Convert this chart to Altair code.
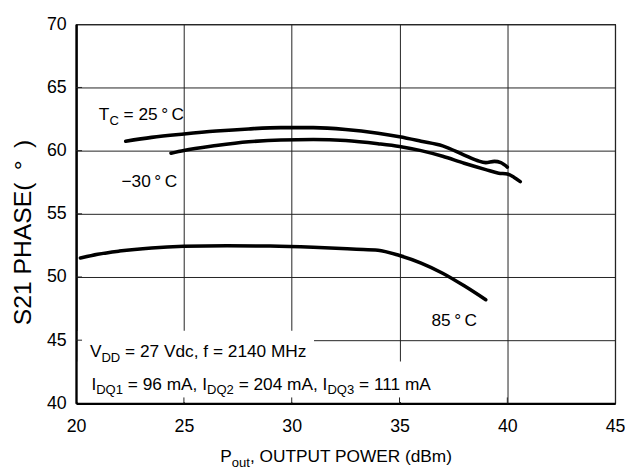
import altair as alt
import pandas as pd

# ---------------- data ----------------
x_ticks = [20, 25, 30, 35, 40, 45]
y_ticks = [40, 45, 50, 55, 60, 65, 70]

t25_x = [22.3, 23.5, 25.0, 26.5, 28.0, 29.5, 31.0, 32.5, 34.0, 35.0, 36.0, 37.0, 38.0, 38.6, 39.0, 39.4, 39.7, 40.0]
t25_y = [60.75, 61.05, 61.32, 61.55, 61.72, 61.82, 61.82, 61.68, 61.38, 61.1, 60.75, 60.38, 59.65, 59.22, 59.05, 59.15, 59.05, 58.7]

tm30_x = [24.4, 25.0, 26.5, 28.0, 29.5, 31.0, 32.5, 34.0, 35.0, 36.0, 37.0, 38.0, 39.0, 39.6, 40.0, 40.3, 40.6]
tm30_y = [59.8, 60.02, 60.4, 60.7, 60.85, 60.88, 60.8, 60.55, 60.33, 60.0, 59.55, 59.0, 58.5, 58.22, 58.15, 57.9, 57.55]

t85_x = [20.2, 21.0, 22.0, 23.5, 25.0, 27.0, 29.0, 31.0, 33.0, 34.0, 35.0, 36.0, 37.0, 38.0, 39.0]
t85_y = [51.5, 51.8, 52.05, 52.3, 52.43, 52.48, 52.45, 52.35, 52.2, 52.12, 51.7, 51.1, 50.3, 49.3, 48.2]

# ---------------- layout helpers ----------------
X_MIN, X_MAX, Y_MIN, Y_MAX = 20, 45, 40, 70
W, H = 546, 384
LEFT, TOP = 77, 21.5            # page pixel of plot origin
PX_X = W / (X_MAX - X_MIN)
PX_Y = H / (Y_MAX - Y_MIN)
FONT = "Liberation Sans"
FS, SFS, SUB_DY = 17.5, 13.2, 5.0

AW = {' ': 278, '(': 333, ')': 333, ',': 278, '=': 584, '°': 400, '\u2009': 200, '\u2212': 584,
      'A': 667, 'B': 667, 'C': 722, 'D': 722, 'E': 667, 'H': 722, 'I': 278, 'M': 833, 'O': 778,
      'P': 667, 'Q': 778, 'R': 722, 'S': 667, 'T': 611, 'U': 722, 'V': 667, 'W': 944,
      'c': 500, 'd': 556, 'f': 278, 'm': 833, 'o': 556, 't': 278, 'u': 556, 'z': 500}


def tw(s, size):
    return sum(AW.get(c, 556) for c in s) / 1000.0 * size


def px2x(px):
    return X_MIN + (px - LEFT) / PX_X


def px2y(py):
    return Y_MAX - (py - TOP) / PX_Y


def segs(parts, px0, py0):
    rows, xp = [], px0
    for text, sub in parts:
        size = SFS if sub else FS
        lead = len(text) - len(text.lstrip(" "))
        xp += tw(" " * lead, size)
        body = text.lstrip(" ")
        rows.append(dict(x=px2x(xp), y=px2y(py0 + (SUB_DY if sub else 0)), text=body, size=size))
        xp += tw(body, size)
    return rows


deg = "\u2009°\u2009"
texts = []
texts += segs([("T", False), ("C", True), (" = 25" + deg + "C", False)], 100, 118.5)
texts += segs([("\u221230" + deg + "C", False)], 123, 186.5)
texts += segs([("85" + deg + "C", False)], 437, 327)
texts += segs([("V", False), ("DD", True), (" = 27 Vdc, f = 2140 MHz", False)], 91, 358.5)
texts += segs([("I", False), ("DQ1", True), (" = 96 mA, I", False), ("DQ2", True),
               (" = 204 mA, I", False), ("DQ3", True), (" = 111 mA", False)], 92.5, 391.5)
texts += segs([("P", False), ("out", True), (", OUTPUT POWER (dBm)", False)], 223, 465)
text_df = pd.DataFrame(texts)

lines_df = pd.concat([
    pd.DataFrame({"x": t25_x, "y": t25_y, "s": "25"}),
    pd.DataFrame({"x": tm30_x, "y": tm30_y, "s": "-30"}),
    pd.DataFrame({"x": t85_x, "y": t85_y, "s": "85"}),
])

boxes_df = pd.DataFrame({
    "x": [X_MIN + 1.8 / PX_X, X_MIN + 1.8 / PX_X],
    "x2": [px2x(318), px2x(446)],
    "y": [Y_MIN + 1.4 / PX_Y, Y_MIN + 1.4 / PX_Y],
    "y2": [px2y(332), px2y(363)],
})

tick_rows = []
for v in x_ticks[1:-1]:
    tick_rows.append(dict(x=v, x2=v, y=Y_MIN, y2=Y_MIN + 6 / PX_Y))
for v in y_ticks[1:-1]:
    tick_rows.append(dict(x=X_MIN, x2=X_MIN + 6 / PX_X, y=v, y2=v))
ticks_df = pd.DataFrame(tick_rows)

# ---------------- chart ----------------
xs = alt.Scale(domain=[X_MIN, X_MAX], nice=False, zero=False)
ys = alt.Scale(domain=[Y_MIN, Y_MAX], nice=False, zero=False)
x_axis = alt.Axis(values=x_ticks, title=None, ticks=False, labelFontSize=18, labelPadding=15,
                  labelFont=FONT, labelColor="black", domainColor="black", domainWidth=2.5,
                  grid=True, gridColor="#222222", gridWidth=1, gridOpacity=1, labelFlush=False)
y_axis = alt.Axis(values=y_ticks, title="S21 PHASE(\u2002°\u2002)", ticks=False, labelFontSize=18,
                  labelFont=FONT, labelPadding=10, labelColor="black", domainColor="black", domainWidth=2.5,
                  grid=True, gridColor="#222222", gridWidth=1, gridOpacity=1,
                  titleFont=FONT, titleFontSize=25, titleFontWeight="normal", titleColor="black",
                  titleX=23 - LEFT, titleY=232 - TOP, titleAngle=270, titleAlign="center",
                  titleBaseline="middle", labelFlush=False)

X = alt.X("x:Q", scale=xs, axis=x_axis)
Y = alt.Y("y:Q", scale=ys, axis=y_axis)

boxes = alt.Chart(boxes_df).mark_rect(color="white", opacity=1).encode(x=X, x2="x2:Q", y=Y, y2="y2:Q")
ticks = alt.Chart(ticks_df).mark_rule(color="#222222", strokeWidth=1).encode(x=X, x2="x2:Q", y=Y, y2="y2:Q")
curves = alt.Chart(lines_df).mark_line(color="black", strokeWidth=3.6, strokeCap="round",
                                       interpolate="monotone").encode(
    x=X, y=Y, detail="s:N", order=alt.Order("x:Q"))
labels = alt.Chart(text_df).mark_text(align="left", baseline="alphabetic", color="black", font=FONT).encode(
    x=X, y=Y, text="text:N", size=alt.Size("size:Q", scale=None, legend=None))

chart = alt.layer(boxes, ticks, curves, labels).properties(
    width=W, height=H,
    autosize=alt.AutoSizeParams(type="none"),
    padding={"left": LEFT - 8, "top": TOP - 8, "right": 10, "bottom": 64},
).configure(font=FONT).configure_view(stroke="#333333", strokeWidth=1.2)

chart.save("out.html", embed_options={"renderer": "svg", "actions": False})
